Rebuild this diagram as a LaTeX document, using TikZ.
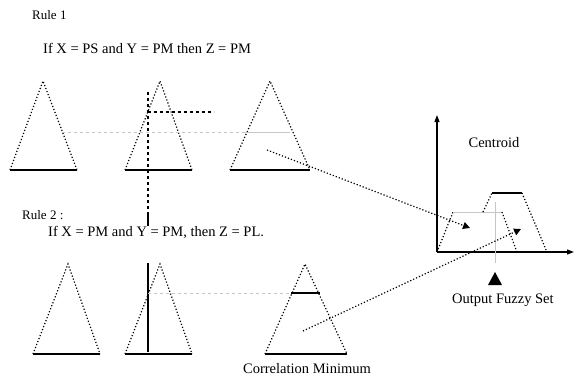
\documentclass[tikz,border=0pt]{standalone}
\usepackage{fontspec}
\setmainfont{Liberation Serif}
\usetikzlibrary{arrows.meta}
\begin{document}
\begin{tikzpicture}[x=1pt,y=-1pt,
  side/.style={dotted,line width=1.2pt},
  basel/.style={line width=1.4pt},
  guide/.style={gray!45,dashed,line width=0.8pt},
  guides/.style={gray!45,line width=0.8pt},
  cut/.style={line width=1.4pt},
  flow/.style={dotted,line width=1.2pt,-{Triangle[length=7pt,width=7pt]}},
  lbl/.style={font=\fontsize{14.5}{16}\selectfont,inner sep=0pt},
  small/.style={font=\fontsize{13}{15}\selectfont,inner sep=0pt},
  axis/.style={line width=1.2pt,-{Triangle[length=7pt,width=5pt]}}]
\useasboundingbox (0,0) rectangle (574,381);
% labels
\node[small,anchor=west] (r1) at (32,15) {Rule 1};
\node[lbl,anchor=west] (t1) at (43,48) {If X = PS and Y = PM then Z = PM};
\node[small,anchor=west] (r2) at (22,215) {Rule 2 :};
\node[lbl,anchor=west] (t2) at (48,233) {If X = PM and Y = PM, then Z = PL.};
\node[lbl] (cm) at (307,369) {Correlation Minimum};
\node[lbl] (cen) at (494,143) {Centroid};
\node[lbl,anchor=west] (ofs) at (452,300) {Output Fuzzy Set};
% rule 1 triangles
\coordinate (a1) at (43,81); \coordinate (a1l) at (10,170); \coordinate (a1r) at (77,170);
\coordinate (a2) at (160,81); \coordinate (a2l) at (125,170); \coordinate (a2r) at (192,170);
\coordinate (a3) at (270,81); \coordinate (a3l) at (230,170); \coordinate (a3r) at (310,170);
\foreach \t in {1,2,3}{
  \draw[side] (a\t l) -- (a\t) -- (a\t r);
  \draw[basel] (a\t l) -- (a\t r);
}
% rule 2 triangles
\coordinate (b1) at (68,264); \coordinate (b1l) at (33,354); \coordinate (b1r) at (100,354);
\coordinate (b2) at (160,264); \coordinate (b2l) at (125,354); \coordinate (b2r) at (192,354);
\coordinate (b3) at (305,264); \coordinate (b3l) at (265,354); \coordinate (b3r) at (347,354);
\foreach \t in {1,2,3}{
  \draw[side] (b\t l) -- (b\t) -- (b\t r);
  \draw[basel] (b\t l) -- (b\t r);
}
% input lines
\coordinate (v1) at (148,92); \coordinate (v2) at (148,212); \coordinate (v3) at (148,226);
\coordinate (v4) at (148,263); \coordinate (v5) at (148,352);
\draw[dashed,line width=1.3pt] (v1) -- (v2);
\draw[line width=1.3pt] (v2) -- (v3);
\draw[line width=1.3pt] (v4) -- (v5);
\coordinate (h1) at (148,112); \coordinate (h2) at (214,112);
\draw[dashed,line width=1.3pt] (h1) -- (h2);
\coordinate (g1) at (62,132); \coordinate (g2) at (245,132); \coordinate (g3) at (290,132);
\draw[guide] (g1) -- (g2);
\draw[guides] (g2) -- (g3);
\coordinate (k1) at (148,293); \coordinate (k2) at (291,293); \coordinate (k3) at (320,293);
\draw[guide] (k1) -- (k2);
\draw[cut] (k2) -- (k3);
% axes
\coordinate (o) at (437,252); \coordinate (ytop) at (437,115); \coordinate (xend) at (574,252);
\draw[axis] (o) -- (ytop);
\draw[axis] (o) -- (xend);
% output sets
\coordinate (p1) at (453,212); \coordinate (p2) at (483,212); \coordinate (p3) at (502,212); \coordinate (p4) at (517,252);
\draw[side] (o) -- (p1);
\draw[guides] (p1) -- (p3);
\draw[side] (p3) -- (p4);
\coordinate (q1) at (492,193); \coordinate (q2) at (522,193); \coordinate (q3) at (547,252);
\draw[side] (p2) -- (q1);
\draw[cut] (q1) -- (q2);
\draw[side] (q2) -- (q3);
\coordinate (c1) at (495,202); \coordinate (c2) at (495,263);
\draw[guides] (c1) -- (c2);
\fill (495,272) coordinate (m0) -- (502,285) -- (488,285) -- cycle;
% flows
\coordinate (f1) at (267,150); \coordinate (f2) at (470,228);
\draw[flow] (f1) -- (f2);
\coordinate (e1) at (303,331); \coordinate (e2) at (521,229);
\draw[flow] (e1) -- (e2);
\end{tikzpicture}
\end{document}
